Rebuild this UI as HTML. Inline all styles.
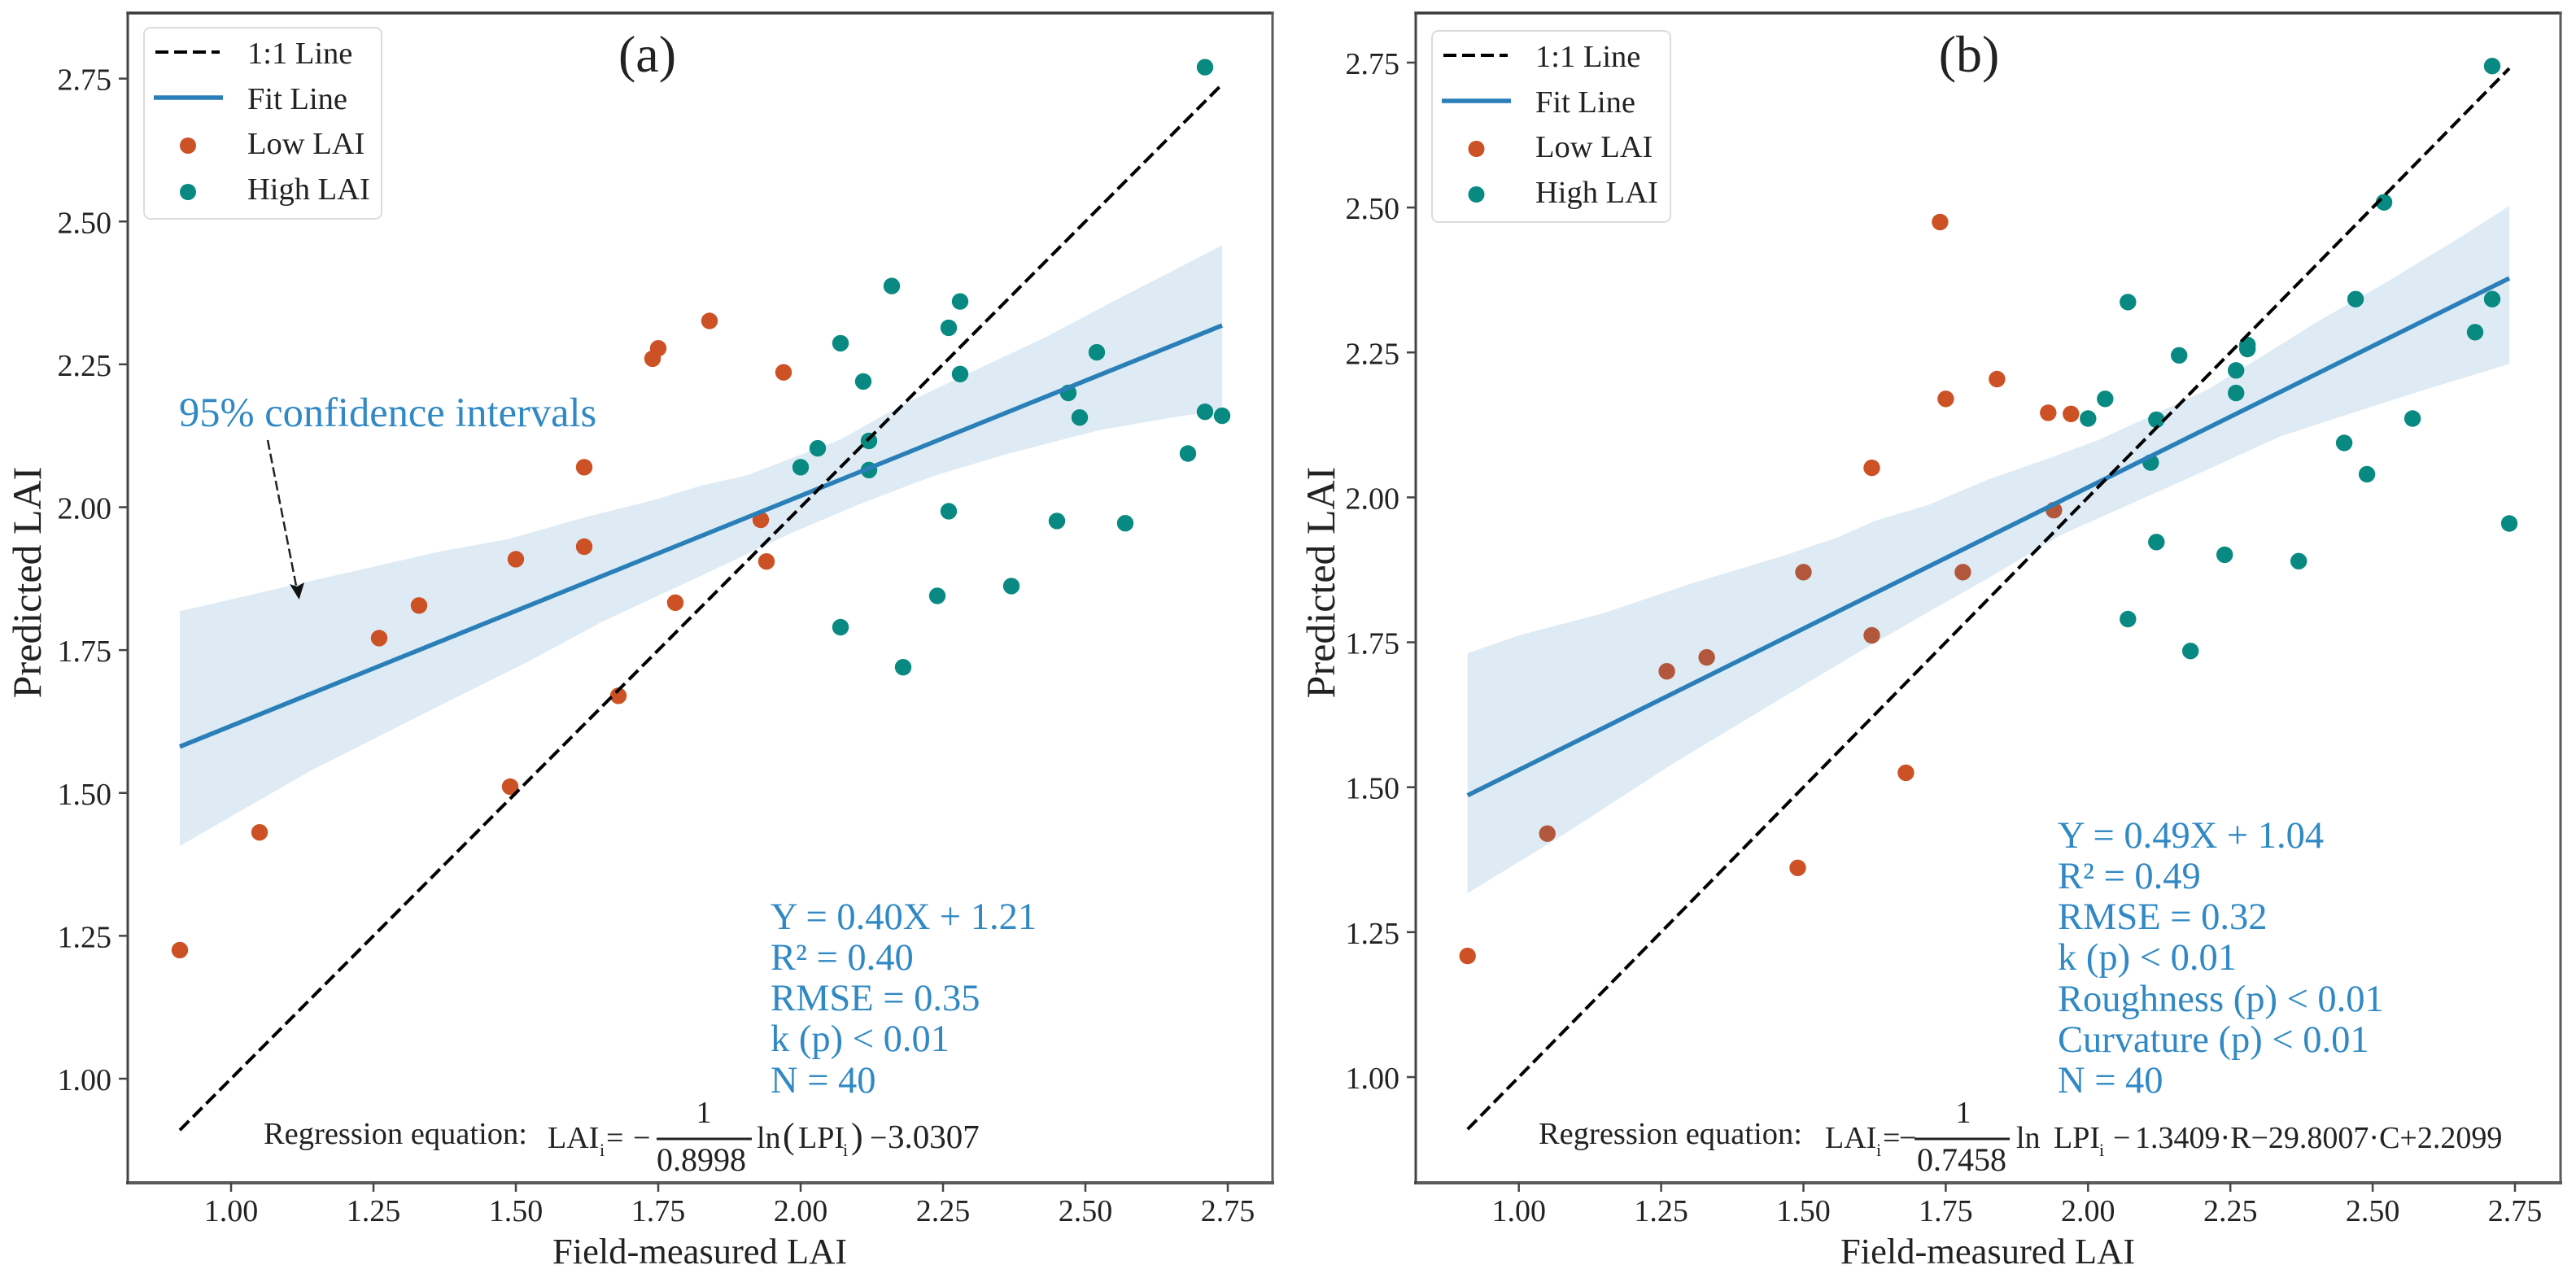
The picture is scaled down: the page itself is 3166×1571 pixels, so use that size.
<!DOCTYPE html>
<html lang="en">
<head>
<meta charset="utf-8">
<title>Field-measured vs predicted LAI</title>
<style>
  html, body { margin: 0; padding: 0; background: #fff; }
  svg { display: block; }
  text { font-family: "Liberation Serif", "Times New Roman", serif; fill: #222; }
  .stat { font-size: 46.5px; fill: #3089c4; }
  .leg { font-size: 38.5px; }
  .eq { font-size: 38px; }
  .x-title { font-size: 44.5px; }
  .y-title { font-size: 50px; }
  .panel-label { font-size: 64px; }
</style>
</head>
<body>
<svg id="figure" xmlns="http://www.w3.org/2000/svg" width="3166" height="1571" viewBox="0 0 3166 1571">
  <rect x="0" y="0" width="3166" height="1571" fill="#fff"/>

  <g id="panel-a">
    <g id="marks-a"></g>
    <g id="axes-a"></g>
    <text class="panel-label" x="795.5" y="88" text-anchor="middle">(a)</text>
    <text class="x-title" x="860" y="1553" text-anchor="middle">Field-measured LAI</text>
    <text class="y-title" transform="translate(50 716) rotate(-90)" text-anchor="middle">Predicted LAI</text>

    <g>
      <rect x="177" y="34" width="292" height="235" rx="8" fill="#fff" stroke="#dcdcdc" stroke-width="2"/>
      <line x1="191" y1="64" x2="270" y2="64" stroke="#000" stroke-width="4" stroke-dasharray="16 7"/>
      <line x1="189" y1="120" x2="274" y2="120" stroke="#2a7fb8" stroke-width="5.5"/>
      <circle cx="231" cy="179" r="10" fill="#cc5226"/>
      <circle cx="231" cy="236" r="10" fill="#088a82"/>
      <text class="leg" x="304" y="78">1:1 Line</text>
      <text class="leg" x="304" y="134">Fit Line</text>
      <text class="leg" x="304" y="189">Low LAI</text>
      <text class="leg" x="304" y="245">High LAI</text>
    </g>

    <text x="220" y="524" font-size="50.5" style="fill:#3089c4">95% confidence intervals</text>
    <line x1="329" y1="541" x2="364" y2="720" stroke="#222" stroke-width="2.5" stroke-dasharray="12 5"/>
    <polygon points="367.6,737 356,718 365,721 374,716" fill="#111"/>

    <g>
      <text class="stat" x="947" y="1142">Y = 0.40X + 1.21</text>
      <text class="stat" x="947" y="1192">R² = 0.40</text>
      <text class="stat" x="947" y="1242">RMSE = 0.35</text>
      <text class="stat" x="947" y="1292">k (p) &lt; 0.01</text>
      <text class="stat" x="947" y="1343">N = 40</text>
    </g>

    <g>
      <text x="324" y="1406" font-size="38.5">Regression equation:</text>
      <text class="eq" x="673" y="1411">LAI</text>
      <text x="737" y="1421" font-size="22">i</text>
      <text class="eq" x="745" y="1411">=</text>
      <text class="eq" x="778" y="1411">−</text>
      <text class="eq" x="865" y="1380" text-anchor="middle">1</text>
      <line x1="807" y1="1400" x2="924" y2="1400" stroke="#222" stroke-width="3"/>
      <text x="862" y="1439" font-size="40" text-anchor="middle">0.8998</text>
      <text class="eq" x="930" y="1411">ln</text>
      <text x="962" y="1411" font-size="44">(</text>
      <text class="eq" x="981" y="1411">LPI</text>
      <text x="1036" y="1421" font-size="22">i</text>
      <text x="1046" y="1411" font-size="44">)</text>
      <text class="eq" x="1069" y="1411">−</text>
      <text x="1091" y="1411" font-size="41">3.0307</text>
    </g>
  </g>

  <g id="panel-b">
    <g id="marks-b"></g>
    <g id="axes-b"></g>
    <text class="panel-label" x="2420" y="88" text-anchor="middle">(b)</text>
    <text class="x-title" x="2443" y="1553" text-anchor="middle">Field-measured LAI</text>
    <text class="y-title" transform="translate(1640 716) rotate(-90)" text-anchor="middle">Predicted LAI</text>

    <g>
      <rect x="1760" y="38" width="293" height="235" rx="8" fill="#fff" stroke="#dcdcdc" stroke-width="2"/>
      <line x1="1774" y1="68" x2="1853" y2="68" stroke="#000" stroke-width="4" stroke-dasharray="16 7"/>
      <line x1="1772" y1="124" x2="1857" y2="124" stroke="#2a7fb8" stroke-width="5.5"/>
      <circle cx="1814.5" cy="183" r="10" fill="#cc5226"/>
      <circle cx="1814.5" cy="239" r="10" fill="#088a82"/>
      <text class="leg" x="1887" y="82">1:1 Line</text>
      <text class="leg" x="1887" y="138">Fit Line</text>
      <text class="leg" x="1887" y="193">Low LAI</text>
      <text class="leg" x="1887" y="249">High LAI</text>
    </g>

    <g>
      <text class="stat" x="2529" y="1042">Y = 0.49X + 1.04</text>
      <text class="stat" x="2529" y="1092">R² = 0.49</text>
      <text class="stat" x="2529" y="1142">RMSE = 0.32</text>
      <text class="stat" x="2529" y="1192">k (p) &lt; 0.01</text>
      <text class="stat" x="2529" y="1243">Roughness (p) &lt; 0.01</text>
      <text class="stat" x="2529" y="1293">Curvature (p) &lt; 0.01</text>
      <text class="stat" x="2529" y="1343">N = 40</text>
    </g>

    <g>
      <text x="1891" y="1406" font-size="38.5">Regression equation:</text>
      <text class="eq" x="2243" y="1411">LAI</text>
      <text x="2306" y="1421" font-size="22">i</text>
      <text class="eq" x="2314" y="1411">=</text>
      <text class="eq" x="2334" y="1411">−</text>
      <text class="eq" x="2413" y="1380" text-anchor="middle">1</text>
      <line x1="2353" y1="1400" x2="2470" y2="1400" stroke="#222" stroke-width="3"/>
      <text x="2411" y="1439" font-size="40" text-anchor="middle">0.7458</text>
      <text class="eq" x="2478" y="1411">ln</text>
      <text class="eq" x="2524" y="1411">LPI</text>
      <text x="2580" y="1421" font-size="22">i</text>
      <text class="eq" x="2597" y="1411">−</text>
      <text class="eq" x="2624" y="1411">1.3409·R−29.8007·C+2.2099</text>
    </g>
  </g>
</svg>

<script>
// Shared tick values
const xTicks = [1.00, 1.25, 1.50, 1.75, 2.00, 2.25, 2.50, 2.75];
const yTicks = [1.00, 1.25, 1.50, 1.75, 2.00, 2.25, 2.50, 2.75];
const tickLabels = ["1.00", "1.25", "1.50", "1.75", "2.00", "2.25", "2.50", "2.75"];
const identityLine = [0.91, 2.74];

// Panel (a) data
const lowXA = [0.91, 1.05, 1.26, 1.33, 1.49, 1.50, 1.62, 1.62, 1.68, 1.74, 1.75, 1.78, 1.84, 1.93, 1.94, 1.97];
const lowYA = [1.225, 1.431, 1.771, 1.828, 1.511, 1.909, 2.07, 1.931, 1.67, 2.26, 2.278, 1.833, 2.326, 1.978, 1.905, 2.236];
const highXA = [2.00, 2.03, 2.07, 2.07, 2.11, 2.12, 2.12, 2.16, 2.18, 2.24, 2.26, 2.26, 2.28, 2.28, 2.37, 2.45, 2.47, 2.49, 2.52, 2.57, 2.68, 2.71, 2.71, 2.74];
const highYA = [2.07, 2.103, 2.287, 1.79, 2.22, 2.116, 2.065, 2.387, 1.72, 1.845, 2.314, 1.993, 2.36, 2.233, 1.862, 1.976, 2.20, 2.157, 2.271, 1.972, 2.094, 2.77, 2.167, 2.16];
const fitXA = [0.91, 2.74];
const fitYA = [1.581, 2.318];
const bandUpperXA = [0.91, 1.11, 1.237, 1.365, 1.486, 1.62, 1.747, 1.823, 1.906, 2.071, 2.18, 2.301, 2.429, 2.556, 2.74];
const bandUpperYA = [1.818, 1.864, 1.893, 1.922, 1.944, 1.982, 2.014, 2.037, 2.056, 2.119, 2.18, 2.237, 2.297, 2.364, 2.458];
const bandLowerXA = [0.91, 1.014, 1.142, 1.269, 1.397, 1.524, 1.652, 1.823, 1.982, 2.11, 2.237, 2.365, 2.525, 2.652, 2.74];
const bandLowerYA = [1.407, 1.467, 1.54, 1.604, 1.668, 1.731, 1.80, 1.879, 1.954, 2.008, 2.056, 2.094, 2.135, 2.157, 2.17];

// Panel (b) data
const lowXB = [0.91, 1.05, 1.26, 1.33, 1.49, 1.50, 1.62, 1.62, 1.68, 1.74, 1.75, 1.78, 1.84, 1.93, 1.94, 1.97];
const lowYB = [1.209, 1.42, 1.70, 1.724, 1.361, 1.871, 2.051, 1.762, 1.525, 2.475, 2.17, 1.871, 2.204, 2.146, 1.978, 2.144];
const highXB = [2.00, 2.03, 2.07, 2.07, 2.11, 2.12, 2.12, 2.16, 2.18, 2.24, 2.26, 2.26, 2.28, 2.28, 2.37, 2.45, 2.47, 2.49, 2.52, 2.57, 2.68, 2.71, 2.71, 2.74];
const highYB = [2.136, 2.17, 2.337, 1.79, 2.06, 2.134, 1.923, 2.245, 1.735, 1.901, 2.219, 2.18, 2.263, 2.256, 1.89, 2.094, 2.342, 2.04, 2.509, 2.136, 2.285, 2.744, 2.342, 1.955];
const fitXB = [0.91, 2.74];
const fitYB = [1.486, 2.378];
const bandUpperXB = [0.91, 1.0, 1.145, 1.305, 1.464, 1.56, 1.624, 1.719, 1.827, 1.922, 2.018, 2.114, 2.21, 2.305, 2.401, 2.529, 2.656, 2.74];
const bandUpperYB = [1.731, 1.762, 1.799, 1.852, 1.899, 1.931, 1.959, 1.987, 2.032, 2.064, 2.099, 2.142, 2.186, 2.243, 2.302, 2.374, 2.45, 2.503];
const bandLowerXB = [0.91, 1.081, 1.273, 1.464, 1.592, 1.719, 1.827, 1.954, 2.082, 2.21, 2.337, 2.465, 2.592, 2.74];
const bandLowerYB = [1.317, 1.42, 1.542, 1.655, 1.73, 1.802, 1.862, 1.936, 1.992, 2.048, 2.105, 2.146, 2.186, 2.23];

const SVG_NS = "http://www.w3.org/2000/svg";

function make(tag, parent, name) {
  const el = document.createElementNS(SVG_NS, tag);
  
  
  parent.appendChild(el);
  return el;
}

function xScaleA(v) { return 284 + (v - 1) * 700; }
function yScaleA(v) { return 1326 - (v - 1) * 702.5; }
function xScaleB(v) { return 1866.7 + (v - 1) * 699.6; }
function yScaleB(v) { return 1324 - (v - 1) * 712.6; }

function drawBand(parent, sx, sy, ux, uy, lx, ly) {
  const pts = [];
  ux.forEach(function (v, i) { pts.push(sx(v).toFixed(1) + "," + sy(uy[i]).toFixed(1)); });
  for (let i = lx.length - 1; i >= 0; i--) { pts.push(sx(lx[i]).toFixed(1) + "," + sy(ly[i]).toFixed(1)); }
  const band = make("polygon", parent, "confidence-band");
  band.setAttribute("points", pts.join(" "));
  band.setAttribute("fill", "rgb(31,119,180)");
  band.setAttribute("fill-opacity", "0.15");
}

function drawPoints(parent, sx, sy, xs, ys, color, name) {
  xs.forEach(function (v, i) {
    const c = make("circle", parent, name);
    c.setAttribute("cx", sx(v).toFixed(1));
    c.setAttribute("cy", sy(ys[i]).toFixed(1));
    c.setAttribute("r", "10.2");
    c.setAttribute("fill", color);
  });
}

function drawFit(parent, sx, sy, xs, ys) {
  const l = make("line", parent, "fit-line");
  l.setAttribute("x1", sx(xs[0]));
  l.setAttribute("y1", sy(ys[0]));
  l.setAttribute("x2", sx(xs[1]));
  l.setAttribute("y2", sy(ys[1]));
  l.setAttribute("stroke", "#2a7fb8");
  l.setAttribute("stroke-width", "5.5");
}

function drawIdentity(parent, sx, sy) {
  const l = make("line", parent, "one-to-one-line");
  l.setAttribute("x1", sx(identityLine[0]));
  l.setAttribute("y1", sy(identityLine[0]));
  l.setAttribute("x2", sx(identityLine[1]));
  l.setAttribute("y2", sy(identityLine[1]));
  l.setAttribute("stroke", "#000");
  l.setAttribute("stroke-width", "4");
  l.setAttribute("stroke-dasharray", "16 7");
}

function drawAxes(parent, sx, sy, left, right, top, bottom) {
  const spines = [
    ["spine-top", left, top, right, top, "#3a3a3a", 3.5],
    ["spine-bottom", left, bottom, right, bottom, "#5a5a5a", 4],
    ["spine-left", left, top, left, bottom, "#444", 3],
    ["spine-right", right, top, right, bottom, "#5a5a5a", 3]
  ];
  spines.forEach(function (s) {
    const l = make("line", parent, s[0]);
    l.setAttribute("x1", s[1]);
    l.setAttribute("y1", s[2]);
    l.setAttribute("x2", s[3]);
    l.setAttribute("y2", s[4]);
    l.setAttribute("stroke", s[5]);
    l.setAttribute("stroke-width", s[6]);
    l.setAttribute("stroke-linecap", "square");
  });
  xTicks.forEach(function (v, i) {
    const t = make("line", parent, "x-tick");
    t.setAttribute("x1", sx(v));
    t.setAttribute("x2", sx(v));
    t.setAttribute("y1", bottom);
    t.setAttribute("y2", bottom + 11);
    t.setAttribute("stroke", "#444");
    t.setAttribute("stroke-width", "2.5");
    const lab = make("text", parent, "x-tick-label");
    lab.setAttribute("x", sx(v));
    lab.setAttribute("y", 1501);
    lab.setAttribute("text-anchor", "middle");
    lab.setAttribute("font-size", "38");
    lab.textContent = tickLabels[i];
  });
  yTicks.forEach(function (v, i) {
    const t = make("line", parent, "y-tick");
    t.setAttribute("x1", left - 11);
    t.setAttribute("x2", left);
    t.setAttribute("y1", sy(v));
    t.setAttribute("y2", sy(v));
    t.setAttribute("stroke", "#444");
    t.setAttribute("stroke-width", "2.5");
    const lab = make("text", parent, "y-tick-label");
    lab.setAttribute("x", left - 20);
    lab.setAttribute("y", sy(v) + 14);
    lab.setAttribute("text-anchor", "end");
    lab.setAttribute("font-size", "38");
    lab.textContent = tickLabels[i];
  });
}

const ORANGE = "#cc5226";
const TEAL = "#088a82";

// Panel (a): band sits beneath the points
const marksA = document.getElementById("marks-a");
drawBand(marksA, xScaleA, yScaleA, bandUpperXA, bandUpperYA, bandLowerXA, bandLowerYA);
drawPoints(marksA, xScaleA, yScaleA, lowXA, lowYA, ORANGE, "low-lai-point");
drawPoints(marksA, xScaleA, yScaleA, highXA, highYA, TEAL, "high-lai-point");
drawFit(marksA, xScaleA, yScaleA, fitXA, fitYA);
drawIdentity(marksA, xScaleA, yScaleA);
drawAxes(document.getElementById("axes-a"), xScaleA, yScaleA, 157, 1564, 16, 1454);

// Panel (b): band sits over the low-LAI points
const marksB = document.getElementById("marks-b");
drawPoints(marksB, xScaleB, yScaleB, lowXB, lowYB, ORANGE, "low-lai-point");
drawBand(marksB, xScaleB, yScaleB, bandUpperXB, bandUpperYB, bandLowerXB, bandLowerYB);
drawPoints(marksB, xScaleB, yScaleB, highXB, highYB, TEAL, "high-lai-point");
drawFit(marksB, xScaleB, yScaleB, fitXB, fitYB);
drawIdentity(marksB, xScaleB, yScaleB);
drawAxes(document.getElementById("axes-b"), xScaleB, yScaleB, 1740, 3147, 16, 1454);
</script>
</body>
</html>
